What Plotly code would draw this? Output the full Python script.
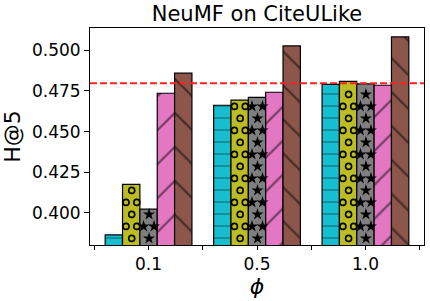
import plotly.graph_objects as go

# ---------------- data ----------------
CATEGORIES = ["0.1", "0.5", "1.0"]
SERIES_NAMES = ["s1", "s2", "s3", "s4", "s5"]
S1 = [0.3865, 0.4662, 0.4791]
S2 = [0.4176, 0.4693, 0.4809]
S3 = [0.4023, 0.4711, 0.4793]
S4 = [0.4736, 0.4742, 0.4785]
S5 = [0.4859, 0.5027, 0.5082]
BASELINE = 0.4797
Y_TICKS = [0.400, 0.425, 0.450, 0.475, 0.500]
Y_TICK_LABELS = ["0.400", "0.425", "0.450", "0.475", "0.500"]

# ---------------- styles ----------------
COLORS = ["#17becf", "#bcbd22", "#7f7f7f", "#e377c2", "#8c564b"]
BAR_W = 0.16
Y_RANGE = [0.3803, 0.5137]
X_RANGE = [-0.54, 2.54]
W, H = 430, 301
M = dict(l=90, r=6, t=28, b=56)
PLOT_H = H - M["t"] - M["b"]
PLOT_W = W - M["l"] - M["r"]
UNIT_PER_PX_Y = (Y_RANGE[1] - Y_RANGE[0]) / PLOT_H
UNIT_PER_PX_X = (X_RANGE[1] - X_RANGE[0]) / PLOT_W
FONT = "DejaVu Sans"

series = [S1, S2, S3, S4, S5]
xs = list(range(len(CATEGORIES)))

patterns = [
    dict(shape="-", fgcolor="#0d5f6b", size=12, solidity=0.17),
    None,
    None,
    dict(shape="/", fgcolor="black", size=24, solidity=0.09),
    dict(shape="\\", fgcolor="black", size=24, solidity=0.09),
]

fig = go.Figure()
for k, vals in enumerate(series):
    marker = dict(color=COLORS[k], line=dict(color="black", width=1.2))
    if patterns[k] is not None:
        marker["pattern"] = dict(fillmode="overlay", **patterns[k])
    fig.add_trace(go.Bar(
        x=xs, y=vals, base=0, width=BAR_W, offset=(k - 2.5) * BAR_W,
        marker=marker, name=SERIES_NAMES[k], showlegend=False,
    ))


def hatch_points(vals, k, even_dx_px, odd_dx_px, spacing_px, margin_px):
    px_x, px_y = [], []
    sp = spacing_px * UNIT_PER_PX_Y
    mg = margin_px * UNIT_PER_PX_Y
    for i, v in enumerate(vals):
        cx = i + (k - 2) * BAR_W
        y = Y_RANGE[0] + sp * 0.55
        row = 0
        while y + mg < v:
            dxs = even_dx_px if row % 2 == 0 else odd_dx_px
            for d in dxs:
                px_x.append(cx + d * UNIT_PER_PX_X)
                px_y.append(y)
            y += sp
            row += 1
    return px_x, px_y


# circles hatch on series 2
cx2, cy2 = hatch_points(S2, 1, [0.5], [-5.2, 5.6], 12, 3.5)
fig.add_trace(go.Scatter(
    x=cx2, y=cy2, mode="markers", showlegend=False, hoverinfo="skip",
    marker=dict(symbol="circle-open", size=6, color="black", line=dict(width=1.6)),
))
# stars hatch on series 3
cx3, cy3 = hatch_points(S3, 2, [0.5], [-5.0, 5.5], 12, 4)
fig.add_trace(go.Scatter(
    x=cx3, y=cy3, mode="markers", showlegend=False, hoverinfo="skip",
    marker=dict(symbol="star", size=9, color="black", line=dict(width=0)),
))

fig.add_hline(y=BASELINE, line=dict(color="#ff2020", width=2, dash="7px,3px"), layer="above")

fig.update_layout(
    width=W, height=H, margin=M,
    paper_bgcolor="white", plot_bgcolor="white",
    font=dict(family=FONT, size=17, color="black"),
    title=dict(text="NeuMF on CiteULike", x=(M["l"] + PLOT_W / 2) / W, xanchor="center",
               y=1 - 14 / H, yanchor="middle", font=dict(size=21, family=FONT)),
    barmode="overlay",
)
fig.update_xaxes(
    range=X_RANGE, tickmode="array", tickvals=xs, ticktext=CATEGORIES,
    ticks="outside", ticklen=3.5, tickcolor="black", showgrid=False, zeroline=False,
    showline=True, linecolor="black", linewidth=1, mirror=True, automargin=False,
    tickfont=dict(size=17, family=FONT),
    minor=dict(tickmode="array", tickvals=[-0.5, 0.5, 1.5, 2.5], ticks="outside",
               ticklen=3.5, tickcolor="black", showgrid=False),
    title=dict(text="<i>ϕ</i>", font=dict(size=22, family=FONT), standoff=0),
)
fig.update_yaxes(
    range=Y_RANGE, tickmode="array", tickvals=Y_TICKS, ticktext=Y_TICK_LABELS,
    ticks="outside", ticklen=5, tickcolor="black", showgrid=False, zeroline=False,
    showline=True, linecolor="black", linewidth=1, mirror=True, automargin=False,
    tickfont=dict(size=17, family=FONT),
    title=dict(text="H@5", font=dict(size=22, family=FONT), standoff=8),
)

fig.write_html("out.html", config={"displayModeBar": False},
               post_script="document.body.style.margin='0';")
